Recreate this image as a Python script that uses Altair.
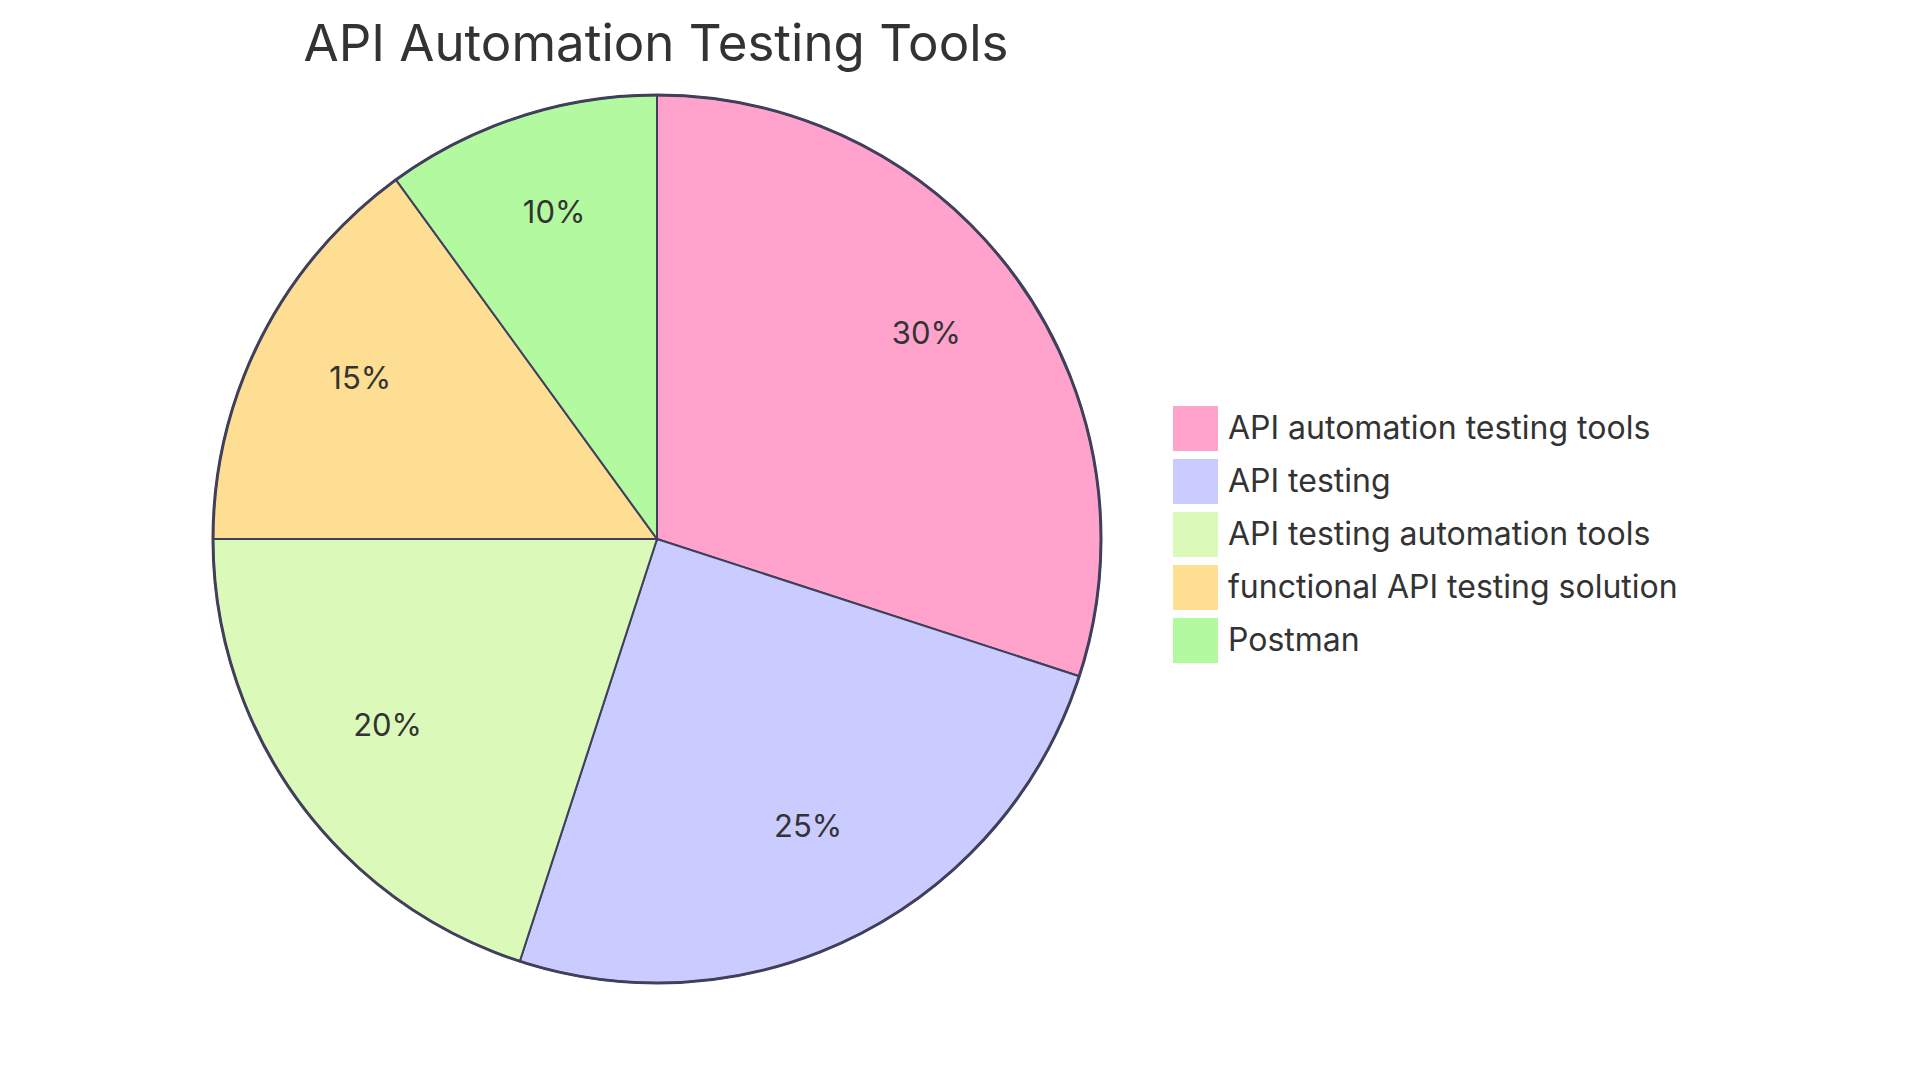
import altair as alt
import pandas as pd

TITLE = "API Automation Testing Tools"
CATEGORIES = [
    "API automation testing tools",
    "API testing",
    "API testing automation tools",
    "functional API testing solution",
    "Postman",
]
VALUES = [30, 25, 20, 15, 10]
COLORS = ["#FFA3CD", "#CACBFE", "#DBFAB9", "#FEDE92", "#B3F9A0"]

FONT = "Inter"
TEXT_COLOR = "#333333"
STROKE = "#40405C"

df = pd.DataFrame({
    "category": CATEGORIES,
    "value": VALUES,
    "rank": list(range(len(CATEGORIES))),
})
df["label"] = [f"{v}%" for v in VALUES]

CX, CY, R = 649, 531, 444

base = alt.Chart(df).encode(
    theta=alt.Theta("value:Q", stack=True),
    order=alt.Order("rank:Q"),
    detail="category:N",
)

arcs = base.mark_arc(outerRadius=R, stroke=STROKE, strokeWidth=2).encode(
    x=alt.value(CX),
    y=alt.value(CY),
    color=alt.Color(
        "category:N",
        scale=alt.Scale(domain=CATEGORIES, range=COLORS),
        sort=CATEGORIES,
        legend=alt.Legend(
            title=None,
            orient="none",
            legendX=1165,
            legendY=398,
            symbolType="square",
            symbolSize=2025,
            symbolStrokeWidth=0,
            symbolOpacity=1,
            labelFont=FONT,
            labelFontSize=32,
            labelColor=TEXT_COLOR,
            labelOffset=10,
            labelLimit=900,
            rowPadding=8,
        ),
    ),
)

outer = alt.Chart(pd.DataFrame({"k": [0]})).mark_arc(
    theta=0, theta2=6.2832, outerRadius=R, fill=None, filled=False,
    stroke=STROKE, strokeWidth=3,
).encode(x=alt.value(CX), y=alt.value(CY))

labels = base.mark_text(
    radius=R * 0.75, font=FONT, fontSize=31, color=TEXT_COLOR, dy=-8
).encode(
    text="label:N",
    x=alt.value(CX),
    y=alt.value(CY),
)

title_layer = alt.Chart(pd.DataFrame({"t": [TITLE]})).mark_text(
    font=FONT, fontSize=51, color=TEXT_COLOR, align="center", baseline="alphabetic"
).encode(
    text="t:N",
    x=alt.value(648),
    y=alt.value(53),
)

chart = alt.layer(arcs, outer, labels, title_layer).properties(
    width=1900,
    height=1060,
    autosize=alt.AutoSizeParams(type="none"),
    padding=0,
    background="white",
).configure_view(stroke=None)

chart.save("out.html", embed_options={"renderer": "svg", "actions": False})
